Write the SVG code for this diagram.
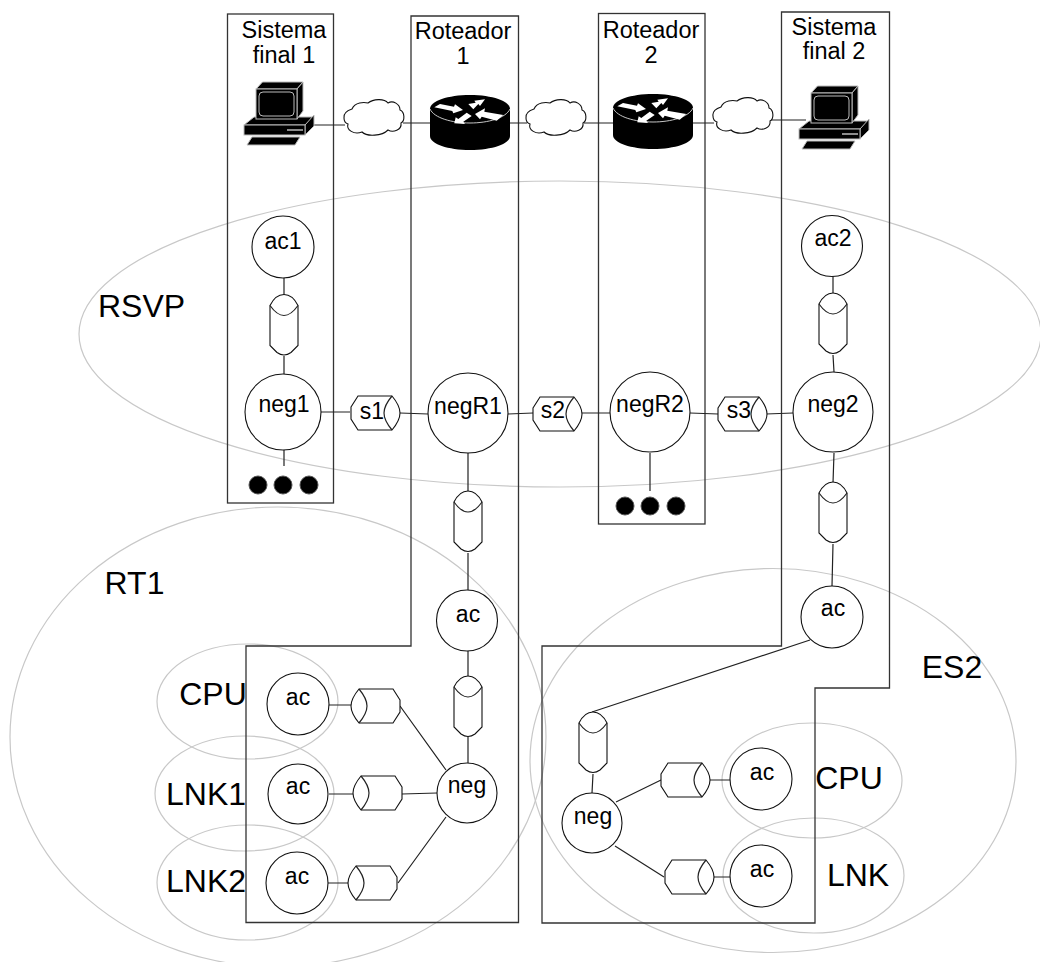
<svg xmlns="http://www.w3.org/2000/svg" width="1040" height="962" viewBox="0 0 1040 962">
<style>
text{font-family:"Liberation Sans",Arial,sans-serif;fill:#000;text-anchor:middle}
.t{font-size:23.5px}.n{font-size:23px}.b{font-size:32px}
.box{fill:none;stroke:#333;stroke-width:1.3}
.reg{fill:none;stroke:#c8c8c8;stroke-width:1.2}
.c{fill:#fff;stroke:#111;stroke-width:1.1}
.l{fill:none;stroke:#222;stroke-width:1.2}
.d{fill:#000;stroke:#555;stroke-width:1}
.k{fill:#000;stroke:#bbb;stroke-width:1}
</style>
<defs>
<g id="cv"><path class="c" d="M-14-20C-11-26-6-31 0-31S11-26 14-20V20L7 27Q0 32-7 27L-14 20Z"/><path class="l" d="M-14-20C-9-13-5-10 0-10S9-13 14-20"/></g>
<g id="ch"><path class="c" d="M-24-6L-17-17H17C22-11 25-5 25 0S22 11 17 17H-17L-24 6Z"/><path class="l" d="M17-17C12-11 9-5 9 0S12 11 17 17"/></g>
<g id="pc">
<path class="k" d="M-36 11L-26 3H34L25 11Z"/><path class="k" d="M25 11L34 1V12L25 21Z"/><rect class="k" x="-36" y="11" width="61" height="10"/>
<path d="M7 16H23" stroke="#bbb" stroke-width="1.500"/>
<path class="k" d="M-33 31L-28 23H20L15 31Z"/>
<path class="k" d="M-24-25L-17.500-32H23L17-25Z"/><path class="k" d="M17-25L23-32V-3L17 5Z"/><rect class="k" x="-24" y="-25" width="41" height="30"/>
<rect class="k" x="-21" y="-22" width="35" height="24" rx="4"/>
</g>
<g id="rt">
<path d="M-40-13C-40-21-22-27 0-27S40-21 40-13V14C40 22 22 28 0 28S-40 22-40 14Z" fill="#000"/>
<path d="M-40-13C-36-4-18 1 0 1S36-4 40-13" fill="none" stroke="#ddd" stroke-width="0.900"/>
<g fill="#fff">
<path d="M-35.700-14.700L-30-18L-16-15.300L-15-17.700L-7-12L-16.700-8.700L-17.700-11Z"/>
<path d="M-1.700-18L5.700-19.300L4.300-21.300L15-22.700L10-16L8.300-18L3.300-12.700Z"/>
<path d="M-15.700 1.300L-14.300-4.700L-11.700-3L-3.300-9.300L1.700-6L-6.700-.3L-5 2Z"/>
<path d="M5-8L15-13.700L14.300-10.300L33.300-7L26.700-1.300L11.700-5.300L10-2.700Z"/>
</g></g>
<path id="cl" class="c" d="M-30 0C-31-6-25-8-22-9C-19-16-10-16-6-15C-1-19 10-20 14-15C19-18 26-14 26-8C31-6 31 3 27 5C28 12 19 15 14 12C8 18-7 19-12 14C-20 17-28 12-26 6C-29 5-30 3-30 0Z"/>
</defs>
<g id="regions">
<ellipse class="reg" cx="560" cy="334" rx="481" ry="153"/>
<ellipse class="reg" cx="278" cy="737" rx="268" ry="230"/>
<ellipse class="reg" cx="773" cy="760.500" rx="243" ry="192"/>
<ellipse class="reg" cx="247.500" cy="701.500" rx="90.500" ry="57.500"/>
<ellipse class="reg" cx="244.500" cy="793.500" rx="89.500" ry="57.500"/>
<ellipse class="reg" cx="247.500" cy="882.500" rx="90.500" ry="57.500"/>
<ellipse class="reg" cx="812" cy="780.500" rx="90" ry="57.500"/>
<ellipse class="reg" cx="813.500" cy="875.500" rx="90.500" ry="57.500"/>
</g>
<g id="boxes">
<rect id="sistema1" class="box" x="227.500" y="14" width="106" height="489"/>
<path id="roteador1" class="box" d="M411 16H518.500V922.500H246V646H411Z"/>
<rect id="roteador2" class="box" x="598.500" y="13.500" width="106.500" height="510.500"/>
<path id="sistema2" class="box" d="M781.500 12H889.500V688H815V923H542V646H781.500Z"/>
</g>
<g id="connectors">
<path class="l" d="M314 125H345M403 123H430M510 123H527M584 123H613M693 123H714M770 120H806"/>
<path class="l" d="M284 278V295M284 356V374M321 412H350M400 413L428 414M508 414L533 413M581 413H610M690 413L718 414M766 414L793 413M284 450V466M650 453V491M468 453V492M468 553V590M468 651V677M468 737V763M833 276V293M833 355L834 372M834 453L833 483M833 544L832 586M810 640L592 712M593 774L592 793M616 802L661 780M615 846L664 877M710 780H731M713 877H731M329 705H352M329 794H353M328 883H349M400 706L446 770M402 794L437 793M398 883L446 817"/>
</g>
<g id="pc1"><use href="#pc" x="280" y="114"/></g>
<g id="router1"><use href="#rt" x="470" y="122"/></g>
<g id="router2"><use href="#rt" x="653" y="121"/></g>
<g id="pc2"><use href="#pc" x="835" y="118"/></g>
<g id="cloud1"><use href="#cl" x="374" y="118"/></g>
<g id="cloud2"><use href="#cl" x="556" y="118"/></g>
<g id="cloud3"><use href="#cl" x="743" y="116"/></g>
<g id="n-ac1"><circle class="c" cx="283" cy="247" r="31"/><text class="n" x="283" y="249">ac1</text></g>
<g id="n-neg1"><circle class="c" cx="283" cy="412" r="38"/><text class="n" x="284" y="412">neg1</text></g>
<g id="n-negR1"><circle class="c" cx="468" cy="413" r="40"/><text class="n" x="468" y="414">negR1</text></g>
<g id="n-negR2"><circle class="c" cx="650" cy="412" r="40"/><text class="n" x="650" y="412">negR2</text></g>
<g id="n-neg2"><circle class="c" cx="833" cy="412" r="40"/><text class="n" x="833" y="412">neg2</text></g>
<g id="n-ac2"><circle class="c" cx="832" cy="246" r="30.500"/><text class="n" x="833" y="246">ac2</text></g>
<g id="n-acR"><circle class="c" cx="467" cy="620.500" r="30.500"/><text class="n" x="468" y="622">ac</text></g>
<g id="n-negRT"><circle class="c" cx="467" cy="793" r="30"/><text class="n" x="467" y="793">neg</text></g>
<g id="n-acCPU"><circle class="c" cx="298" cy="704" r="31"/><text class="n" x="298" y="705">ac</text></g>
<g id="n-acLNK1"><circle class="c" cx="298" cy="794" r="30"/><text class="n" x="298" y="794">ac</text></g>
<g id="n-acLNK2"><circle class="c" cx="297" cy="883" r="31"/><text class="n" x="297" y="884">ac</text></g>
<g id="n-acES"><circle class="c" cx="832" cy="617" r="31"/><text class="n" x="833" y="616">ac</text></g>
<g id="n-negES"><circle class="c" cx="592" cy="823" r="30"/><text class="n" x="593" y="824">neg</text></g>
<g id="n-acESCPU"><circle class="c" cx="761" cy="779" r="31"/><text class="n" x="762" y="780">ac</text></g>
<g id="n-acESLNK"><circle class="c" cx="761" cy="876" r="31"/><text class="n" x="762" y="877">ac</text></g>
<g id="c1"><use href="#cv" x="284" y="325.500"/></g>
<g id="c2"><use href="#cv" x="833" y="324"/></g>
<g id="c3"><use href="#cv" x="833" y="513"/></g>
<g id="c4"><use href="#cv" x="468" y="522"/></g>
<g id="c5"><use href="#cv" x="468" y="707"/></g>
<g id="c6"><use href="#cv" x="593" y="743"/></g>
<g id="s1"><use href="#ch" x="375" y="413"/><text class="n" x="372" y="419">s1</text></g>
<g id="s2"><use href="#ch" x="557" y="414"/><text class="n" x="553" y="418">s2</text></g>
<g id="s3"><use href="#ch" x="742" y="414"/><text class="n" x="739" y="418">s3</text></g>
<g id="c7"><use href="#ch" transform="translate(376 706) scale(-1 1)"/></g>
<g id="c8"><use href="#ch" transform="translate(378 793) scale(-1 1)"/></g>
<g id="c9"><use href="#ch" transform="translate(373 883) scale(-1 1)"/></g>
<g id="c10"><use href="#ch" x="685" y="780"/></g>
<g id="c11"><use href="#ch" x="689" y="877"/></g>
<g id="dots1"><circle class="d" cx="258" cy="485" r="9"/><circle class="d" cx="283" cy="485" r="9"/><circle class="d" cx="309" cy="485" r="9"/></g>
<g id="dots2"><circle class="d" cx="625" cy="506" r="9"/><circle class="d" cx="650" cy="506" r="9"/><circle class="d" cx="676" cy="506" r="9"/></g>
<g id="labels">
<text class="t" x="284" y="38">Sistema</text><text class="t" x="284" y="62.500">final 1</text>
<text class="t" x="463" y="39">Roteador</text><text class="t" x="463" y="64">1</text>
<text class="t" x="651" y="38">Roteador</text><text class="t" x="651" y="63">2</text>
<text class="t" x="834" y="35">Sistema</text><text class="t" x="834" y="59">final 2</text>
<text class="b" x="141.500" y="317">RSVP</text>
<text class="b" x="134.500" y="594">RT1</text>
<text class="b" x="952" y="678">ES2</text>
<text class="b" x="213" y="705">CPU</text>
<text class="b" x="206" y="805">LNK1</text>
<text class="b" x="206" y="892">LNK2</text>
<text class="b" x="849" y="789">CPU</text>
<text class="b" x="858" y="886">LNK</text>
</g>
</svg>
